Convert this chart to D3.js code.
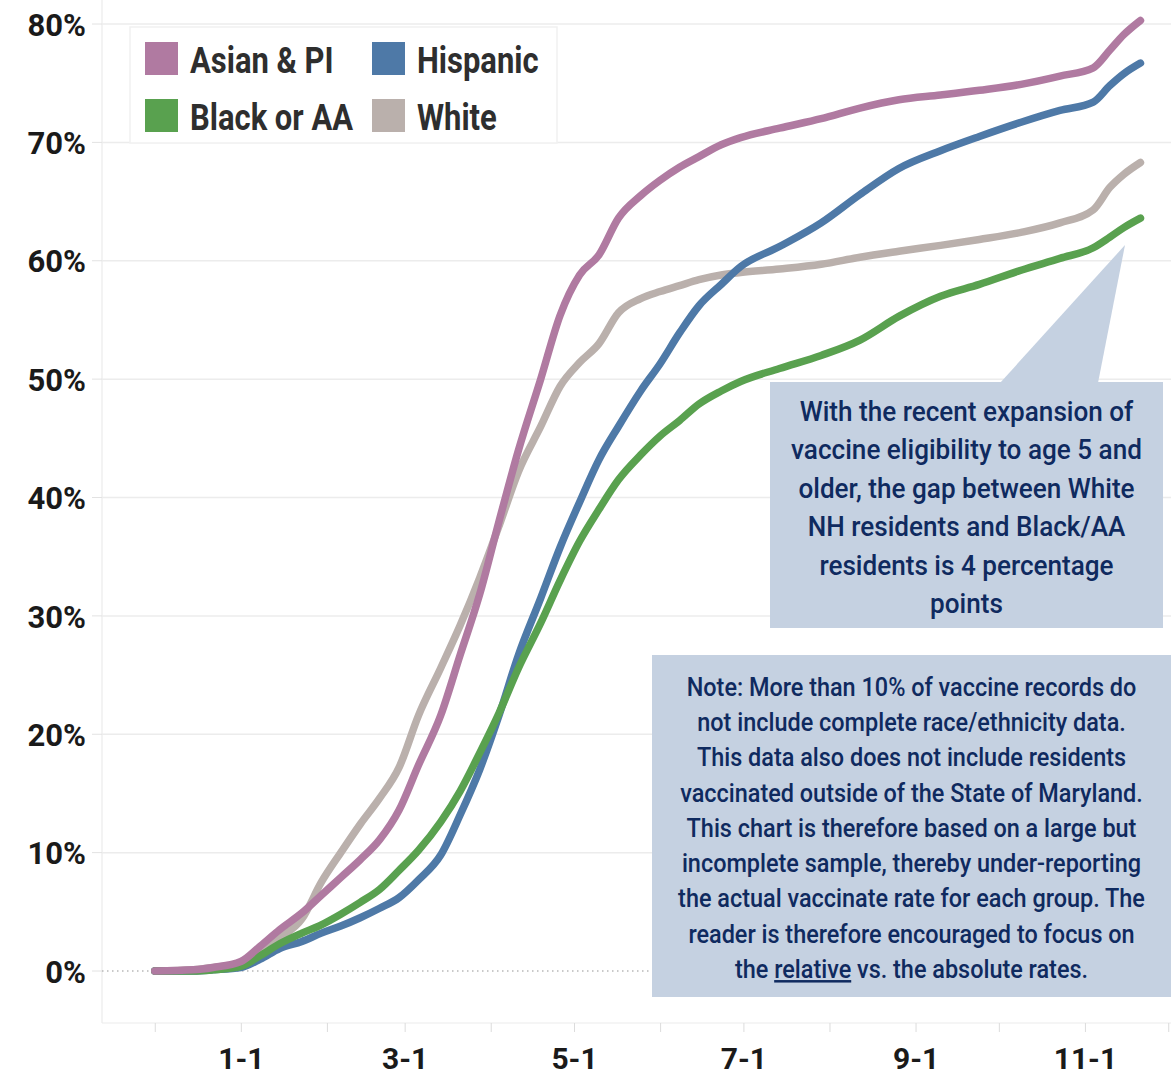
<!DOCTYPE html>
<html>
<head>
<meta charset="utf-8">
<script src="https://cdn.jsdelivr.net/npm/d3@7"></script>
<style>
  html, body { margin: 0; padding: 0; background: #fff; }
  svg { display: block; }
</style>
</head>
<body>
<svg id="chart" width="1171" height="1076"></svg>
<script>
// ---------------- DATA ----------------
const dates = [
  "2020-12-01","2020-12-15","2020-12-22","2021-01-01","2021-01-08","2021-01-15",
  "2021-01-23","2021-01-30","2021-02-06","2021-02-13","2021-02-20","2021-02-27",
  "2021-03-06","2021-03-14","2021-03-21","2021-03-28","2021-04-04","2021-04-11",
  "2021-04-19","2021-04-26","2021-05-03","2021-05-10","2021-05-17","2021-05-25",
  "2021-06-01","2021-06-08","2021-06-15","2021-06-23","2021-06-30","2021-07-14",
  "2021-07-29","2021-08-12","2021-08-26","2021-09-10","2021-09-24","2021-10-09",
  "2021-10-23","2021-11-04","2021-11-10","2021-11-15","2021-11-21"
];
const asianPI = [
  0, 0.1, 0.3, 0.8, 2.1, 3.5, 4.9, 6.4, 7.9, 9.4, 11.1, 13.6,
  17.4, 21.6, 26.7, 31.8, 38.0, 44.0, 50.0, 55.4, 58.8, 60.5, 63.6, 65.5,
  66.8, 67.9, 68.8, 69.8, 70.4, 71.2, 72.0, 72.9, 73.6, 74.0, 74.4, 74.9,
  75.6, 76.3, 77.8, 79.1, 80.3
];
const hispanic = [
  0, 0, 0.1, 0.3, 1.0, 1.9, 2.5, 3.2, 3.8, 4.5, 5.3, 6.2,
  7.7, 9.8, 13.2, 17.0, 21.6, 26.7, 31.5, 35.8, 39.6, 43.2, 46.0, 49.0,
  51.3, 53.9, 56.2, 58.0, 59.5, 61.2, 63.2, 65.6, 67.8, 69.3, 70.5, 71.7,
  72.7, 73.4, 74.8, 75.8, 76.7
];
const blackAA = [
  0, 0, 0.1, 0.4, 1.3, 2.3, 3.2, 3.9, 4.8, 5.8, 6.9, 8.5,
  10.2, 12.6, 15.2, 18.4, 21.8, 25.6, 29.4, 33.0, 36.3, 39.0, 41.5, 43.6,
  45.2, 46.5, 47.9, 49.0, 49.8, 50.9, 52.0, 53.3, 55.3, 57.0, 58.0, 59.2,
  60.2, 61.1, 62.0, 62.8, 63.6
];
const white = [
  0, 0.1, 0.3, 0.6, 1.6, 2.8, 4.4, 7.5, 10.0, 12.4, 14.6, 17.2,
  21.6, 25.6, 29.2, 33.2, 37.6, 42.2, 46.0, 49.4, 51.4, 53.0, 55.6, 56.8,
  57.4, 57.9, 58.4, 58.8, 59.0, 59.3, 59.7, 60.3, 60.8, 61.3, 61.8, 62.4,
  63.2, 64.3, 66.2, 67.3, 68.3
];
const seriesNames = ["White", "Hispanic", "Black or AA", "Asian & PI"];   // draw order
const seriesValues = [white, hispanic, blackAA, asianPI];
const seriesColors = ["#bab0ac", "#4e79a7", "#59a14f", "#b07aa1"];
const legendOrder = ["Asian & PI", "Hispanic", "Black or AA", "White"];
const yTicks = [0, 10, 20, 30, 40, 50, 60, 70, 80];
const xLabelMonths = ["2021-01-01","2021-03-01","2021-05-01","2021-07-01","2021-09-01","2021-11-01"];
const calloutLines = [
  "With the recent expansion of",
  "vaccine eligibility to age 5 and",
  "older, the gap between White",
  "NH residents and Black/AA",
  "residents is 4 percentage",
  "points"
];
const noteLines = [
  "Note: More than 10% of vaccine records do",
  "not include complete race/ethnicity data.",
  "This data also does not include residents",
  "vaccinated outside of the State of Maryland.",
  "This chart is therefore based on a large but",
  "incomplete sample, thereby under-reporting",
  "the actual vaccinate rate for each group. The",
  "reader is therefore encouraged to focus on",
  ["the ", "relative", " vs. the absolute rates."]
];

// ---------------- LAYOUT ----------------
const plotLeft = 102, plotRight = 1171, plotBottom = 1023;
const parse = d3.timeParse("%Y-%m-%d");
const svg = d3.select("#chart");
const x = d3.scaleTime()
  .domain([new Date(2020, 10, 12), new Date(2021, 11, 2)])
  .range([plotLeft, plotRight]);
const y = d3.scaleLinear().domain([0, 80]).range([971, 24]);

const font = "Roboto, 'Liberation Sans', Arial, sans-serif";

// frame
svg.append("line").attr("x1", plotLeft).attr("x2", plotLeft).attr("y1", 0).attr("y2", plotBottom)
  .attr("stroke", "#ebebeb").attr("stroke-width", 1.2);
svg.append("line").attr("x1", plotLeft).attr("x2", plotRight).attr("y1", plotBottom).attr("y2", plotBottom)
  .attr("stroke", "#ebebeb").attr("stroke-width", 1.2);

// gridlines
const grid = svg.append("g");
yTicks.forEach(t => {
  const g = grid.append("line")
    .attr("x1", plotLeft).attr("x2", plotRight)
    .attr("y1", y(t)).attr("y2", y(t));
  if (t === 0) {
    g.attr("stroke", "#b8b8b8").attr("stroke-width", 1.4).attr("stroke-dasharray", "1.5,3.5");
  } else {
    g.attr("stroke", "#ececec").attr("stroke-width", 1.5);
  }
  grid.append("line").attr("x1", plotLeft - 10).attr("x2", plotLeft)
    .attr("y1", y(t)).attr("y2", y(t)).attr("stroke", "#e2e2e2").attr("stroke-width", 1);
});

// y axis labels
const yAxis = d3.axisLeft(y).tickValues(yTicks).tickFormat(d => d + "%").tickSize(0).tickPadding(0);
const yg = svg.append("g").attr("transform", `translate(86,0)`).call(yAxis);
yg.select(".domain").remove();
yg.selectAll("text").attr("font-family", font).attr("font-weight", 700)
  .attr("font-size", 31).attr("fill", "#1a1a1a").attr("dy", "0.36em");

// x axis: monthly ticks, labels every two months
const xAxisTicks = d3.axisBottom(x).ticks(d3.timeMonth.every(1)).tickSize(9).tickFormat("");
const xg = svg.append("g").attr("transform", `translate(0,${plotBottom})`).call(xAxisTicks);
xg.select(".domain").remove();
xg.selectAll("line").attr("stroke", "#dcdcdc");
const xAxisLabels = d3.axisBottom(x).tickValues(xLabelMonths.map(parse))
  .tickFormat(d3.timeFormat("%-m-%-d")).tickSize(0).tickPadding(0);
const xl = svg.append("g").attr("transform", `translate(0,1069)`).call(xAxisLabels);
xl.select(".domain").remove();
xl.selectAll("text").attr("font-family", font).attr("font-weight", 700)
  .attr("font-size", 30).attr("fill", "#1a1a1a").attr("dy", 0);

// legend
const legend = svg.append("g");
legend.append("rect").attr("x", 130).attr("y", 27).attr("width", 427).attr("height", 116)
  .attr("fill", "#fff").attr("stroke", "#f1f1f1").attr("stroke-width", 1.5);
const legPos = [[145, 42], [372, 42], [145, 99], [372, 99]];
const legText = [];
legendOrder.forEach((name, i) => {
  const c = seriesColors[seriesNames.indexOf(name)];
  const [lx, ly] = legPos[i];
  legend.append("rect").attr("x", lx).attr("y", ly).attr("width", 33).attr("height", 33).attr("fill", c);
  const tg = legend.append("g").attr("transform", `translate(${lx + 45},${ly + 31})`);
  const t = tg.append("text").attr("font-family", font).attr("font-weight", 700)
    .attr("font-size", 37).attr("fill", "#2e2e2e").text(name);
  legText.push([tg, t]);
});
{
  const ref = legText[2][1].node().getComputedTextLength();
  const sx = 163 / ref;
  legText.forEach(([tg, t], i) => {
    const [lx, ly] = legPos[i];
    tg.attr("transform", `translate(${lx + 45},${ly + 31}) scale(${sx},1)`);
  });
}

// lines
const line = d3.line()
  .x((d, i) => x(parse(dates[i])))
  .y(d => y(d))
  .curve(d3.curveMonotoneX);
const linesG = svg.append("g");
seriesValues.forEach((vals, k) => {
  linesG.append("path").datum(vals)
    .attr("d", line)
    .attr("fill", "none")
    .attr("stroke", seriesColors[k])
    .attr("stroke-width", 7.5)
    .attr("stroke-linecap", "round")
    .attr("stroke-linejoin", "round");
});

// callout
const boxFill = "#c5d1e1";
const textFill = "#0f2a5f";
svg.append("polygon").attr("points", "1000,383 1098,383 1125,245").attr("fill", boxFill);
svg.append("rect").attr("x", 770).attr("y", 382).attr("width", 393).attr("height", 246).attr("fill", boxFill);
const cg = svg.append("g");
const cTexts = calloutLines.map((s, i) =>
  cg.append("text").attr("x", 0).attr("y", 421 + i * 38.4).attr("text-anchor", "middle")
    .attr("font-family", font).attr("font-weight", 500).attr("font-size", 28)
    .attr("fill", textFill).text(s));
{
  const sx = 351 / cTexts[1].node().getComputedTextLength();
  cg.attr("transform", `translate(966.5,0) scale(${sx},1)`);
}

// note
svg.append("rect").attr("x", 652).attr("y", 655).attr("width", 519).attr("height", 342).attr("fill", boxFill);
const ng = svg.append("g");
const nTexts = noteLines.map((s, i) => {
  const t = ng.append("text").attr("x", 0).attr("y", 696 + i * 35.25).attr("text-anchor", "middle")
    .attr("font-family", font).attr("font-weight", 500).attr("font-size", 25)
    .attr("fill", textFill);
  if (Array.isArray(s)) {
    s.forEach((part, j) => {
      const sp = t.append("tspan").text(part);
      if (j === 1) sp.attr("text-decoration", "underline");
    });
  } else {
    t.text(s);
  }
  return t;
});
{
  const sx = 463 / nTexts[3].node().getComputedTextLength();
  ng.attr("transform", `translate(911.5,0) scale(${sx},1)`);
}
</script>
</body>
</html>
